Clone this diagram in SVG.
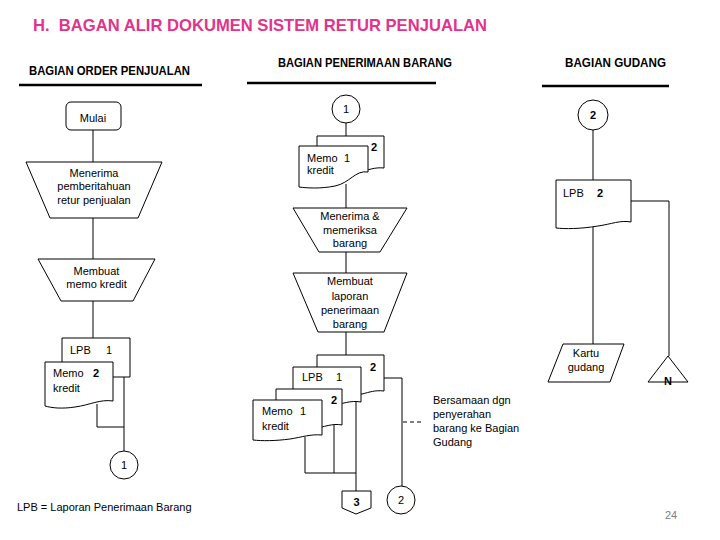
<svg xmlns="http://www.w3.org/2000/svg" width="720" height="540" viewBox="0 0 720 540">
<style>
.s{fill:#fff;stroke:#000;stroke-width:1}
.l{fill:none;stroke:#000;stroke-width:1}
.u{stroke:#000;stroke-width:2.5}
text{font-family:"Liberation Sans",Arial,sans-serif;fill:#000}
.t{font-size:11px}
.c{font-size:11px;text-anchor:middle}
.b{font-weight:bold}
.h{font-size:12px;font-weight:bold}
</style>
<rect width="720" height="540" fill="#fff"/>
<text x="33" y="31" font-size="17" font-weight="bold" style="fill:#E2338C" textLength="454" lengthAdjust="spacingAndGlyphs">H.&#160; BAGAN ALIR DOKUMEN SISTEM RETUR PENJUALAN</text>
<g id="headers">
<text class="h" x="29" y="75" textLength="161" lengthAdjust="spacingAndGlyphs">BAGIAN ORDER PENJUALAN</text>
<line class="u" x1="19" y1="85" x2="202" y2="85"/>
<text class="h" x="278" y="67" textLength="174" lengthAdjust="spacingAndGlyphs">BAGIAN PENERIMAAN BARANG</text>
<line class="u" x1="247" y1="83" x2="436" y2="83"/>
<text class="h" x="565" y="67" textLength="101" lengthAdjust="spacingAndGlyphs">BAGIAN GUDANG</text>
<line class="u" x1="542" y1="86" x2="669" y2="86"/>
</g>
<g id="connectors">
<line class="l" x1="93" y1="130" x2="93" y2="162"/>
<line class="l" x1="93" y1="218" x2="93" y2="259"/>
<line class="l" x1="93" y1="301" x2="93" y2="338"/>
<polyline class="l" points="124,377 124,451"/>
<polyline class="l" points="97,404 97,427 124,427"/>
<line class="l" x1="346" y1="123" x2="346" y2="136"/>
<line class="l" x1="346" y1="184" x2="346" y2="208"/>
<line class="l" x1="346" y1="252" x2="346" y2="273"/>
<line class="l" x1="346" y1="332" x2="346" y2="355"/>
<polyline class="l" points="384,378 402,378 402,486"/>
<line class="l" x1="356" y1="402" x2="356" y2="491"/>
<line class="l" x1="334" y1="425" x2="334" y2="473"/>
<line class="l" x1="305" y1="437" x2="305" y2="473"/>
<line class="l" x1="305" y1="473" x2="356" y2="473"/>
<line class="l" x1="403" y1="422" x2="424" y2="422" stroke-dasharray="4,3"/>
<line class="l" x1="593" y1="130" x2="593" y2="180"/>
<polyline class="l" points="631,201 669,201 669,356"/>
<line class="l" x1="593" y1="226" x2="593" y2="344"/>
</g>
<g id="mulai">
<rect class="s" x="66" y="102" width="55" height="28" rx="5"/>
<text class="c" x="93" y="122">Mulai</text>
</g>
<g id="menerima-pemberitahuan">
<polygon class="s" points="26,162 162,162 138,218 50,218"/>
<text class="c" x="94" y="177">Menerima</text>
<text class="c" x="94" y="190">pemberitahuan</text>
<text class="c" x="94" y="204">retur penjualan</text>
</g>
<g id="membuat-memo">
<polygon class="s" points="38,259 155,259 133,301 61,301"/>
<text class="c" x="96.5" y="275">Membuat</text>
<text class="c" x="96.5" y="288">memo kredit</text>
</g>
<g id="lpb1-left">
<path class="s" d="M62,338 H130 V377 H113 C100,379 90,381 80,382 C70,383 65,382 62,382 Z"/>
<text class="t" x="70" y="354">LPB</text>
<text class="t" x="106" y="354">1</text>
</g>
<g id="memo2-left">
<path class="s" d="M45,362 H113 V401 C100,399 90,405 75,407 C62,409 52,408 45,406 Z"/>
<text class="t" x="53" y="377">Memo</text>
<text class="t b" x="93" y="377">2</text>
<text class="t" x="53" y="392">kredit</text>
</g>
<g id="conn-1-left">
<circle class="s" cx="124" cy="465" r="14"/>
<text class="c" x="124" y="469">1</text>
</g>
<text class="t" x="17" y="511">LPB = Laporan Penerimaan Barang</text>
<g id="conn-1-mid">
<circle class="s" cx="346" cy="109" r="14"/>
<text class="c" x="346" y="113">1</text>
</g>
<g id="memo2-mid">
<path class="s" d="M317,136 H384 V168 C375,167 368,170 360,172 C340,176 325,175 317,174 Z"/>
<text class="t b" x="371" y="151">2</text>
</g>
<g id="memo1-mid">
<path class="s" d="M299,146 H368 V172 C355,170 350,183 335,186 C320,189 307,188 299,187 Z"/>
<text class="t" x="307" y="162">Memo</text>
<text class="t" x="344" y="162">1</text>
<text class="t" x="307" y="174">kredit</text>
</g>
<g id="menerima-memeriksa">
<polygon class="s" points="293,208 407,208 380,252 319,252"/>
<text class="c" x="350" y="220">Menerima &amp;</text>
<text class="c" x="350" y="234">memeriksa</text>
<text class="c" x="350" y="247">barang</text>
</g>
<g id="membuat-laporan">
<polygon class="s" points="293,273 407,273 384,332 318,332"/>
<text class="c" x="350" y="285">Membuat</text>
<text class="c" x="350" y="300">laporan</text>
<text class="c" x="350" y="314">penerimaan</text>
<text class="c" x="350" y="328">barang</text>
</g>
<g id="lpb2-mid">
<path class="s" d="M317,355 H384 V391 C375,390 370,392 362,394 C345,398 328,397 317,396 Z"/>
<text class="t b" x="370" y="371">2</text>
</g>
<g id="lpb1-mid">
<path class="s" d="M293,367 H361 V402 C350,400 343,404 330,406 C315,408 300,407 293,406 Z"/>
<text class="t" x="302" y="381">LPB</text>
<text class="t" x="336" y="381">1</text>
</g>
<g id="memo2-mid-b">
<path class="s" d="M276,389 H342 V425 C332,423 325,427 312,429 C298,431 284,430 276,429 Z"/>
<text class="t b" x="331" y="404">2</text>
</g>
<g id="memo1-mid-b">
<path class="s" d="M253,400 H322 V435 C310,434 303,437 290,439 C275,441 262,441 253,440 Z"/>
<text class="t" x="262" y="415">Memo</text>
<text class="t" x="300" y="415">1</text>
<text class="t" x="262" y="430">kredit</text>
</g>
<g id="offpage-3">
<path class="s" d="M342,491 H371 V508 L356,514 L342,508 Z"/>
<text class="c b" x="356.5" y="506">3</text>
</g>
<g id="conn-2-bottom">
<circle class="s" cx="401" cy="500" r="14"/>
<text class="c" x="401" y="504">2</text>
</g>
<g id="note">
<text class="t" x="433" y="404">Bersamaan dgn</text>
<text class="t" x="433" y="418">penyerahan</text>
<text class="t" x="433" y="432">barang ke Bagian</text>
<text class="t" x="433" y="446">Gudang</text>
</g>
<g id="conn-2-right">
<circle class="s" cx="593" cy="115" r="15"/>
<text class="c b" x="593" y="119">2</text>
</g>
<g id="lpb2-right">
<path class="s" d="M556,180 H631 V222 C620,220 612,224 598,226 C580,229 565,229 556,228 Z"/>
<text class="t" x="563" y="197">LPB</text>
<text class="t b" x="597" y="197">2</text>
</g>
<g id="kartu-gudang">
<polygon class="s" points="563,344 624,344 610,382 548,382"/>
<text class="c" x="586" y="357">Kartu</text>
<text class="c" x="586" y="371">gudang</text>
</g>
<g id="arsip-n">
<polygon class="s" points="668,356 688,382 648,382"/>
<text class="c b" x="668" y="385" font-size="10">N</text>
</g>
<text x="665" y="519" font-size="11" style="fill:#7F7F7F">24</text>
</svg>
